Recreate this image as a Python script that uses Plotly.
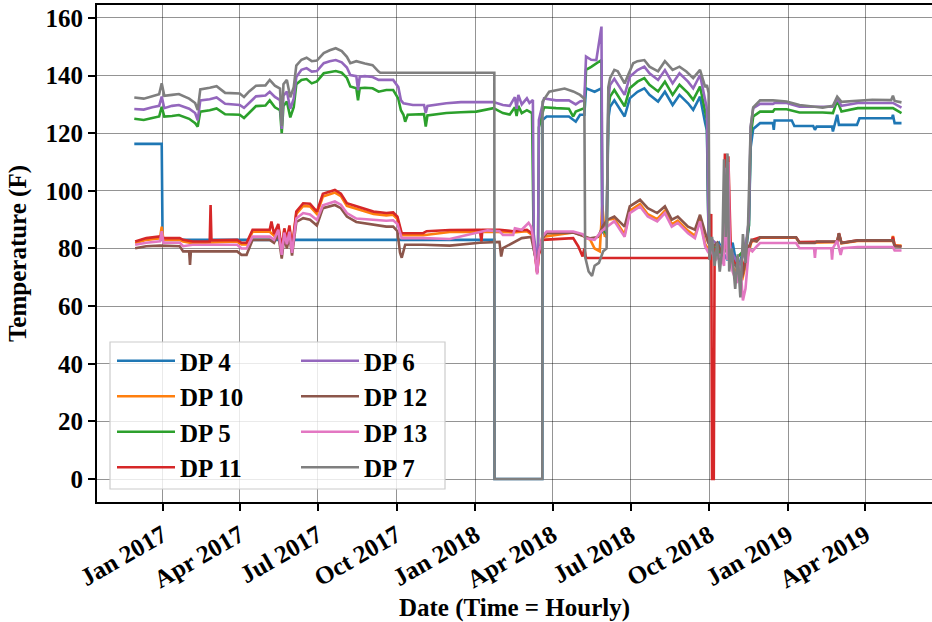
import plotly.graph_objects as go

# Hourly temperature record of eight data points (DP), sampled at key dates.
# Each series is a list of (timestamp, temperature in F) pairs.

dp4 = [
    ("2016-11-29", 116.3), ("2016-12-31", 116.3), ("2017-01-01", 83.0), ("2018-01-23", 83.0),
    ("2018-01-23 06:00", 0.0), ("2018-03-20", 0.0), ("2018-03-20 06:00", 124.6), ("2018-03-25", 125.8),
    ("2018-04-20", 125.8), ("2018-04-25", 124.6), ("2018-04-28", 124.0), ("2018-05-03", 126.4),
    ("2018-05-08", 126.4), ("2018-05-10", 135.6), ("2018-05-20", 134.4), ("2018-05-28", 135.6),
    ("2018-05-29", 86.0), ("2018-06-03", 84.0), ("2018-06-05", 125.0), ("2018-06-07", 129.2),
    ("2018-06-12", 131.4), ("2018-06-24", 125.8), ("2018-06-30", 132.1), ("2018-07-09", 134.4),
    ("2018-07-17", 135.6), ("2018-07-23", 133.3), ("2018-08-02", 131.0), ("2018-08-10", 134.4),
    ("2018-08-19", 129.8), ("2018-08-27", 133.3), ("2018-09-06", 130.4), ("2018-09-12", 128.1),
    ("2018-09-20", 132.7), ("2018-09-26", 123.5), ("2018-09-28", 121.0), ("2018-09-30", 84.0),
    ("2018-10-05", 80.0), ("2018-10-12", 82.0), ("2018-10-18", 78.0), ("2018-10-22", 76.0),
    ("2018-10-28", 82.0), ("2018-11-03", 72.0), ("2018-11-08", 78.0), ("2018-11-13", 80.0),
    ("2018-11-16", 88.0), ("2018-11-18", 115.0), ("2018-11-21", 121.5), ("2018-11-29", 123.5),
    ("2018-12-14", 123.5), ("2018-12-15", 121.2), ("2018-12-16", 124.4), ("2019-01-05", 124.4),
    ("2019-01-08", 122.5), ("2019-01-30", 122.5), ("2019-02-01", 121.2), ("2019-02-03", 122.3),
    ("2019-02-21", 122.3), ("2019-02-22", 120.6), ("2019-02-27", 126.4), ("2019-03-01", 122.9),
    ("2019-03-22", 122.9), ("2019-03-25", 125.2), ("2019-05-02", 125.2), ("2019-05-03", 126.4),
    ("2019-05-05", 123.5), ("2019-05-13", 123.5),
]

dp10 = [
    ("2016-11-30", 81.8), ("2016-12-13", 83.0), ("2016-12-29", 83.5), ("2016-12-31", 87.6),
    ("2017-01-02", 83.0), ("2017-01-21", 83.0), ("2017-01-25", 82.4), ("2017-02-05", 81.8),
    ("2017-03-29", 82.4), ("2017-04-03", 81.4), ("2017-04-09", 81.4), ("2017-04-16", 85.8),
    ("2017-05-06", 85.8), ("2017-05-11", 84.5), ("2017-05-16", 87.8), ("2017-05-20", 79.0),
    ("2017-05-23", 86.3), ("2017-05-26", 82.5), ("2017-05-29", 87.3), ("2017-06-01", 79.5),
    ("2017-06-06", 92.0), ("2017-06-14", 94.8), ("2017-06-22", 94.6), ("2017-06-30", 92.0),
    ("2017-07-07", 98.0), ("2017-07-21", 99.4), ("2017-07-28", 98.2), ("2017-08-04", 94.8),
    ("2017-08-15", 93.8), ("2017-09-04", 92.0), ("2017-09-19", 91.5), ("2017-09-27", 91.7),
    ("2017-10-02", 90.2), ("2017-10-07", 84.6), ("2017-11-01", 84.6), ("2017-12-02", 85.7),
    ("2018-01-06", 85.8), ("2018-01-29", 85.8), ("2018-02-14", 85.6), ("2018-03-02", 86.0),
    ("2018-03-09", 84.5), ("2018-03-14", 71.8), ("2018-03-16", 78.5), ("2018-03-18", 80.5),
    ("2018-03-20", 84.0), ("2018-04-25", 85.6), ("2018-05-06", 84.5), ("2018-05-15", 83.0),
    ("2018-05-20", 80.0), ("2018-05-26", 79.0), ("2018-05-29", 95.0), ("2018-06-01", 84.0),
    ("2018-06-04", 90.0), ("2018-06-12", 90.3), ("2018-06-24", 84.9), ("2018-06-30", 93.1),
    ("2018-07-12", 95.4), ("2018-07-21", 91.9), ("2018-08-01", 90.2), ("2018-08-10", 93.1),
    ("2018-08-18", 88.4), ("2018-08-25", 89.7), ("2018-09-06", 86.1), ("2018-09-14", 84.4),
    ("2018-09-20", 90.2), ("2018-09-26", 81.5), ("2018-09-29", 80.0), ("2018-10-03", 79.0),
    ("2018-10-10", 81.0), ("2018-10-16", 77.0), ("2018-10-21", 84.0), ("2018-10-26", 74.0),
    ("2018-11-02", 72.0), ("2018-11-08", 69.0), ("2018-11-14", 77.0), ("2018-11-19", 82.5),
    ("2018-11-25", 82.6), ("2018-11-29", 83.7), ("2019-01-10", 83.7), ("2019-01-14", 82.0),
    ("2019-02-27", 82.2), ("2019-03-01", 85.0), ("2019-03-04", 81.8), ("2019-03-23", 82.6),
    ("2019-05-02", 82.6), ("2019-05-03", 84.3), ("2019-05-05", 81.0), ("2019-05-13", 81.0),
]

dp5 = [
    ("2016-11-29", 125.0), ("2016-12-10", 124.6), ("2016-12-20", 125.3), ("2016-12-28", 125.8),
    ("2016-12-31", 129.2), ("2017-01-03", 125.8), ("2017-01-12", 126.0), ("2017-01-20", 126.3),
    ("2017-02-01", 125.0), ("2017-02-08", 123.5), ("2017-02-11", 122.3), ("2017-02-14", 127.5),
    ("2017-02-25", 128.0), ("2017-03-05", 128.6), ("2017-03-15", 126.6), ("2017-04-01", 126.4),
    ("2017-04-06", 125.3), ("2017-04-12", 127.0), ("2017-04-20", 129.4), ("2017-05-01", 129.6),
    ("2017-05-06", 131.4), ("2017-05-12", 129.0), ("2017-05-18", 128.0), ("2017-05-20", 120.0),
    ("2017-05-22", 129.5), ("2017-05-26", 131.0), ("2017-05-30", 125.5), ("2017-06-03", 129.0),
    ("2017-06-06", 137.0), ("2017-06-12", 138.5), ("2017-06-18", 138.8), ("2017-06-24", 137.3),
    ("2017-06-30", 138.0), ("2017-07-08", 140.8), ("2017-07-15", 141.3), ("2017-07-22", 141.6),
    ("2017-07-29", 141.0), ("2017-08-04", 139.2), ("2017-08-08", 136.2), ("2017-08-15", 135.6),
    ("2017-08-17", 131.4), ("2017-08-19", 135.6), ("2017-08-25", 135.8), ("2017-09-03", 135.6),
    ("2017-09-10", 134.4), ("2017-09-19", 135.0), ("2017-09-27", 135.0), ("2017-10-03", 132.0),
    ("2017-10-06", 128.0), ("2017-10-09", 126.4), ("2017-10-11", 124.0), ("2017-10-14", 126.4),
    ("2017-11-02", 126.6), ("2017-11-04", 122.3), ("2017-11-06", 126.2), ("2017-11-28", 127.0),
    ("2017-12-15", 127.3), ("2018-01-02", 127.5), ("2018-01-22", 128.7), ("2018-02-02", 127.0),
    ("2018-02-10", 126.5), ("2018-02-16", 129.0), ("2018-02-18", 126.0), ("2018-02-20", 129.5),
    ("2018-02-24", 127.0), ("2018-03-02", 128.0), ("2018-03-08", 127.0), ("2018-03-09", 104.0),
    ("2018-03-09 12:00", 101.5), ("2018-03-10", 80.0), ("2018-03-14", 74.0), ("2018-03-15", 79.0),
    ("2018-03-16", 122.0), ("2018-03-22", 129.0), ("2018-04-05", 128.7), ("2018-04-20", 128.5),
    ("2018-04-25", 125.8), ("2018-04-28", 127.5), ("2018-05-08", 128.7), ("2018-05-10", 142.0),
    ("2018-05-16", 143.0), ("2018-05-22", 144.3), ("2018-05-28", 145.4), ("2018-05-29", 87.0),
    ("2018-06-03", 85.0), ("2018-06-05", 128.5), ("2018-06-07", 132.7), ("2018-06-12", 135.0),
    ("2018-06-24", 129.3), ("2018-06-30", 135.6), ("2018-07-09", 137.9), ("2018-07-17", 139.1),
    ("2018-07-23", 136.8), ("2018-08-02", 134.5), ("2018-08-10", 137.9), ("2018-08-19", 133.3),
    ("2018-08-27", 136.8), ("2018-09-06", 133.9), ("2018-09-12", 131.6), ("2018-09-20", 136.2),
    ("2018-09-26", 127.0), ("2018-09-28", 124.5), ("2018-09-30", 82.0), ("2018-10-08", 80.0),
    ("2018-10-16", 78.0), ("2018-10-22", 80.0), ("2018-10-30", 76.0), ("2018-11-06", 78.0),
    ("2018-11-12", 80.0), ("2018-11-16", 88.0), ("2018-11-18", 119.0), ("2018-11-21", 125.8),
    ("2018-11-29", 127.5), ("2018-12-14", 127.5), ("2018-12-16", 128.3), ("2018-12-30", 128.3),
    ("2019-01-14", 127.2), ("2019-02-10", 127.2), ("2019-02-22", 127.0), ("2019-02-27", 131.4),
    ("2019-03-04", 127.5), ("2019-03-23", 128.7), ("2019-05-03", 128.7), ("2019-05-13", 127.0),
]

dp11 = [
    ("2016-11-30", 82.4), ("2016-12-13", 83.6), ("2016-12-29", 84.2), ("2017-01-01", 83.6),
    ("2017-01-21", 83.6), ("2017-01-25", 83.0), ("2017-02-05", 82.4), ("2017-02-25", 82.4),
    ("2017-02-26", 95.1), ("2017-02-27", 82.8), ("2017-03-29", 83.0), ("2017-04-03", 82.0),
    ("2017-04-09", 82.0), ("2017-04-16", 86.5), ("2017-05-06", 86.5), ("2017-05-08", 89.4),
    ("2017-05-11", 85.0), ("2017-05-16", 88.5), ("2017-05-20", 79.5), ("2017-05-23", 87.0),
    ("2017-05-26", 83.0), ("2017-05-29", 88.0), ("2017-06-01", 80.0), ("2017-06-06", 92.8),
    ("2017-06-14", 95.7), ("2017-06-22", 95.5), ("2017-06-30", 92.8), ("2017-07-07", 99.0),
    ("2017-07-21", 100.3), ("2017-07-28", 99.0), ("2017-08-04", 95.7), ("2017-08-15", 94.6),
    ("2017-09-04", 92.8), ("2017-09-19", 92.3), ("2017-09-27", 92.5), ("2017-10-02", 91.0),
    ("2017-10-07", 85.3), ("2017-11-01", 85.3), ("2017-11-05", 86.0), ("2017-12-02", 86.4),
    ("2018-01-06", 86.5), ("2018-01-08", 82.4), ("2018-01-09", 86.5), ("2018-01-29", 86.5),
    ("2018-02-14", 86.0), ("2018-03-02", 86.5), ("2018-03-09", 85.0), ("2018-03-14", 71.5),
    ("2018-03-16", 78.0), ("2018-03-18", 79.6), ("2018-03-20", 83.0), ("2018-04-25", 83.6),
    ("2018-05-01", 80.7), ("2018-05-06", 77.2), ("2018-05-08", 80.0), ("2018-05-10", 76.7),
    ("2018-10-01", 76.7), ("2018-10-03", 92.0), ("2018-10-04", 0.0), ("2018-10-06", 0.0),
    ("2018-10-07", 80.0), ("2018-10-12", 78.0), ("2018-10-17", 76.0), ("2018-10-19", 113.0),
    ("2018-10-21", 80.0), ("2018-10-23", 112.0), ("2018-10-26", 78.0), ("2018-11-01", 74.0),
    ("2018-11-08", 72.0), ("2018-11-15", 80.0), ("2018-11-20", 83.0), ("2018-11-29", 83.9),
    ("2019-01-10", 83.9), ("2019-01-14", 82.2), ("2019-02-27", 82.4), ("2019-03-01", 85.3),
    ("2019-03-04", 82.0), ("2019-03-23", 82.8), ("2019-05-02", 82.8), ("2019-05-03", 84.1),
    ("2019-05-05", 81.0), ("2019-05-13", 80.7),
]

dp6 = [
    ("2016-11-29", 128.4), ("2016-12-10", 128.2), ("2016-12-20", 129.0), ("2016-12-28", 129.5),
    ("2016-12-31", 132.7), ("2017-01-03", 128.7), ("2017-01-12", 129.5), ("2017-01-20", 129.8),
    ("2017-02-01", 128.5), ("2017-02-08", 127.0), ("2017-02-11", 124.5), ("2017-02-14", 131.4),
    ("2017-02-25", 131.8), ("2017-03-05", 132.4), ("2017-03-15", 130.2), ("2017-04-01", 129.8),
    ("2017-04-06", 128.8), ("2017-04-12", 130.5), ("2017-04-20", 132.8), ("2017-05-01", 133.1),
    ("2017-05-06", 134.4), ("2017-05-12", 132.6), ("2017-05-18", 131.5), ("2017-05-20", 121.5),
    ("2017-05-22", 133.0), ("2017-05-26", 134.5), ("2017-05-30", 128.5), ("2017-06-03", 132.0),
    ("2017-06-06", 139.5), ("2017-06-12", 142.0), ("2017-06-18", 142.6), ("2017-06-24", 141.4),
    ("2017-06-30", 141.6), ("2017-07-08", 144.3), ("2017-07-15", 145.0), ("2017-07-22", 145.4),
    ("2017-07-29", 144.6), ("2017-08-04", 142.8), ("2017-08-08", 140.2), ("2017-08-15", 139.8),
    ("2017-08-17", 135.0), ("2017-08-19", 139.6), ("2017-08-25", 139.8), ("2017-09-03", 139.5),
    ("2017-09-10", 138.5), ("2017-09-19", 138.5), ("2017-09-27", 138.5), ("2017-10-03", 136.0),
    ("2017-10-06", 131.5), ("2017-10-09", 130.4), ("2017-10-20", 129.8), ("2017-11-02", 129.8),
    ("2017-11-04", 127.0), ("2017-11-06", 129.5), ("2017-11-28", 130.4), ("2017-12-15", 130.8),
    ("2018-01-02", 130.8), ("2018-01-22", 130.8), ("2018-02-02", 129.8), ("2018-02-10", 129.5),
    ("2018-02-16", 132.5), ("2018-02-18", 128.5), ("2018-02-20", 133.3), ("2018-02-24", 130.0),
    ("2018-03-02", 132.1), ("2018-03-05", 130.5), ("2018-03-09", 131.5), ("2018-03-10", 85.0),
    ("2018-03-12", 80.0), ("2018-03-14", 72.0), ("2018-03-15", 78.0), ("2018-03-16", 124.6),
    ("2018-03-22", 132.1), ("2018-04-05", 131.4), ("2018-04-20", 131.4), ("2018-04-28", 130.0),
    ("2018-05-03", 131.0), ("2018-05-08", 131.4), ("2018-05-10", 146.6), ("2018-05-16", 145.5),
    ("2018-05-22", 145.4), ("2018-05-24", 148.9), ("2018-05-28", 157.0), ("2018-05-29", 88.0),
    ("2018-06-03", 86.0), ("2018-06-05", 132.0), ("2018-06-07", 136.7), ("2018-06-12", 138.9),
    ("2018-06-24", 133.3), ("2018-06-30", 139.6), ("2018-07-09", 141.9), ("2018-07-17", 143.1),
    ("2018-07-23", 140.8), ("2018-08-02", 138.5), ("2018-08-10", 141.9), ("2018-08-19", 137.3),
    ("2018-08-27", 140.8), ("2018-09-06", 137.9), ("2018-09-12", 135.6), ("2018-09-20", 140.2),
    ("2018-09-26", 131.0), ("2018-09-28", 128.5), ("2018-09-30", 84.0), ("2018-10-08", 82.0),
    ("2018-10-16", 80.0), ("2018-10-22", 84.0), ("2018-10-28", 78.0), ("2018-11-05", 74.0),
    ("2018-11-12", 80.0), ("2018-11-16", 90.0), ("2018-11-18", 122.0), ("2018-11-21", 128.7),
    ("2018-11-29", 130.2), ("2018-12-14", 130.2), ("2018-12-16", 130.5), ("2018-12-30", 130.5),
    ("2019-01-14", 129.2), ("2019-02-22", 129.2), ("2019-02-27", 132.0), ("2019-03-04", 129.5),
    ("2019-03-23", 130.5), ("2019-05-03", 130.5), ("2019-05-13", 128.9),
]

dp12 = [
    ("2016-11-30", 80.1), ("2016-12-13", 80.8), ("2016-12-29", 81.0), ("2017-01-21", 80.8),
    ("2017-01-25", 79.0), ("2017-02-01", 79.0), ("2017-02-02", 74.3), ("2017-02-03", 79.0),
    ("2017-03-29", 79.0), ("2017-04-03", 77.8), ("2017-04-09", 77.8), ("2017-04-16", 83.0),
    ("2017-05-06", 83.0), ("2017-05-11", 82.0), ("2017-05-16", 85.0), ("2017-05-20", 76.5),
    ("2017-05-23", 84.0), ("2017-05-26", 80.0), ("2017-05-29", 84.5), ("2017-06-01", 77.5),
    ("2017-06-06", 89.2), ("2017-06-14", 90.5), ("2017-06-22", 90.0), ("2017-06-30", 88.0),
    ("2017-07-07", 94.0), ("2017-07-21", 95.1), ("2017-07-28", 94.0), ("2017-08-04", 91.1),
    ("2017-08-15", 89.2), ("2017-09-04", 88.2), ("2017-09-19", 87.6), ("2017-09-27", 87.6),
    ("2017-10-02", 86.0), ("2017-10-05", 78.5), ("2017-10-07", 76.8), ("2017-10-11", 81.3),
    ("2017-11-01", 81.3), ("2017-12-02", 81.0), ("2018-01-06", 82.0), ("2018-01-29", 82.3),
    ("2018-01-31", 77.2), ("2018-02-02", 80.1), ("2018-02-14", 81.9), ("2018-02-24", 83.6),
    ("2018-03-07", 84.0), ("2018-03-14", 74.0), ("2018-03-16", 79.0), ("2018-03-18", 80.7),
    ("2018-03-20", 83.5), ("2018-03-25", 85.3), ("2018-04-25", 85.5), ("2018-05-06", 84.5),
    ("2018-05-15", 83.5), ("2018-05-24", 84.0), ("2018-05-30", 88.0), ("2018-06-04", 90.0),
    ("2018-06-12", 91.1), ("2018-06-24", 87.6), ("2018-06-30", 94.6), ("2018-07-12", 96.9),
    ("2018-07-21", 94.0), ("2018-08-01", 92.3), ("2018-08-10", 94.6), ("2018-08-18", 90.0),
    ("2018-08-25", 91.1), ("2018-09-06", 87.6), ("2018-09-14", 86.5), ("2018-09-20", 91.7),
    ("2018-09-26", 85.3), ("2018-09-29", 82.4), ("2018-10-03", 80.0), ("2018-10-10", 82.0),
    ("2018-10-16", 78.0), ("2018-10-20", 85.0), ("2018-10-25", 75.0), ("2018-11-01", 74.0),
    ("2018-11-08", 70.0), ("2018-11-14", 78.0), ("2018-11-19", 83.0), ("2018-11-25", 82.4),
    ("2018-11-29", 83.9), ("2019-01-10", 83.9), ("2019-01-14", 81.9), ("2019-02-01", 81.9),
    ("2019-02-03", 82.4), ("2019-02-27", 82.4), ("2019-03-01", 85.3), ("2019-03-04", 81.9),
    ("2019-03-23", 82.8), ("2019-05-03", 82.8), ("2019-05-05", 80.7), ("2019-05-13", 80.7),
]

dp13 = [
    ("2016-11-30", 81.3), ("2016-12-13", 82.0), ("2016-12-29", 82.5), ("2016-12-31", 86.0),
    ("2017-01-02", 82.0), ("2017-01-21", 82.0), ("2017-01-25", 80.8), ("2017-02-05", 81.3),
    ("2017-03-29", 81.3), ("2017-04-03", 80.0), ("2017-04-09", 80.0), ("2017-04-16", 84.1),
    ("2017-05-06", 84.1), ("2017-05-11", 83.0), ("2017-05-16", 86.5), ("2017-05-20", 77.8),
    ("2017-05-23", 85.5), ("2017-05-26", 81.5), ("2017-05-29", 85.8), ("2017-06-01", 78.5),
    ("2017-06-06", 90.4), ("2017-06-14", 92.3), ("2017-06-22", 91.8), ("2017-06-30", 89.9),
    ("2017-07-07", 95.0), ("2017-07-21", 96.3), ("2017-07-28", 95.2), ("2017-08-04", 92.3),
    ("2017-08-15", 90.4), ("2017-09-04", 90.0), ("2017-09-19", 89.6), ("2017-09-27", 89.8),
    ("2017-10-02", 88.5), ("2017-10-07", 83.6), ("2017-11-01", 83.6), ("2017-12-02", 83.3),
    ("2018-01-06", 85.5), ("2018-01-15", 86.3), ("2018-01-29", 86.0), ("2018-02-02", 84.7),
    ("2018-02-14", 84.7), ("2018-02-16", 87.0), ("2018-02-24", 86.5), ("2018-03-04", 88.9),
    ("2018-03-07", 87.5), ("2018-03-09", 84.0), ("2018-03-14", 71.0), ("2018-03-16", 79.0),
    ("2018-03-18", 81.0), ("2018-03-20", 84.1), ("2018-03-25", 85.9), ("2018-04-25", 85.9),
    ("2018-05-06", 85.0), ("2018-05-10", 83.5), ("2018-05-20", 83.0), ("2018-05-28", 86.0),
    ("2018-06-04", 87.6), ("2018-06-12", 89.5), ("2018-06-24", 84.1), ("2018-06-30", 92.3),
    ("2018-07-12", 94.6), ("2018-07-21", 91.1), ("2018-08-01", 89.4), ("2018-08-10", 92.3),
    ("2018-08-18", 87.6), ("2018-08-25", 88.9), ("2018-09-06", 85.3), ("2018-09-14", 83.6),
    ("2018-09-20", 89.4), ("2018-09-26", 80.7), ("2018-09-29", 79.0), ("2018-10-02", 80.0),
    ("2018-10-08", 76.0), ("2018-10-14", 78.0), ("2018-10-18", 74.0), ("2018-10-20", 108.0),
    ("2018-10-22", 76.0), ("2018-10-23", 110.0), ("2018-10-25", 76.0), ("2018-10-28", 72.0),
    ("2018-11-02", 68.0), ("2018-11-06", 74.0), ("2018-11-09", 62.0), ("2018-11-12", 66.0),
    ("2018-11-16", 80.0), ("2018-11-20", 79.0), ("2018-11-25", 80.7), ("2018-11-29", 81.9),
    ("2019-01-10", 81.9), ("2019-01-14", 80.1), ("2019-01-31", 80.1), ("2019-02-01", 76.7),
    ("2019-02-02", 80.1), ("2019-02-20", 80.1), ("2019-02-21", 76.1), ("2019-02-22", 80.1),
    ("2019-02-27", 82.7), ("2019-03-03", 77.8), ("2019-03-05", 80.1), ("2019-03-23", 80.5),
    ("2019-05-03", 80.5), ("2019-05-05", 79.3), ("2019-05-13", 79.3),
]

dp7 = [
    ("2016-11-29", 132.4), ("2016-12-10", 132.0), ("2016-12-20", 132.8), ("2016-12-28", 133.5),
    ("2016-12-31", 137.3), ("2017-01-03", 133.0), ("2017-01-12", 133.3), ("2017-01-20", 133.6),
    ("2017-02-01", 132.0), ("2017-02-08", 130.5), ("2017-02-11", 128.0), ("2017-02-14", 135.2),
    ("2017-02-25", 135.8), ("2017-03-05", 136.3), ("2017-03-15", 134.0), ("2017-04-01", 133.8),
    ("2017-04-06", 132.6), ("2017-04-12", 134.5), ("2017-04-20", 136.5), ("2017-05-01", 136.6),
    ("2017-05-06", 138.5), ("2017-05-12", 136.5), ("2017-05-18", 135.5), ("2017-05-20", 122.5),
    ("2017-05-22", 137.0), ("2017-05-26", 138.5), ("2017-05-30", 132.5), ("2017-06-03", 136.0),
    ("2017-06-06", 143.5), ("2017-06-12", 145.5), ("2017-06-18", 146.2), ("2017-06-24", 145.0),
    ("2017-06-30", 145.2), ("2017-07-08", 147.8), ("2017-07-15", 148.8), ("2017-07-22", 149.5),
    ("2017-07-29", 148.5), ("2017-08-04", 146.5), ("2017-08-08", 144.3), ("2017-08-15", 145.0),
    ("2017-08-25", 144.2), ("2017-09-03", 143.6), ("2017-09-10", 141.4), ("2017-09-12", 141.0),
    ("2018-01-23", 141.0), ("2018-01-23 06:00", 0.0), ("2018-03-20", 0.0), ("2018-03-20 06:00", 131.0),
    ("2018-03-28", 134.4), ("2018-04-05", 135.0), ("2018-04-15", 135.5), ("2018-04-25", 134.5),
    ("2018-05-03", 133.3), ("2018-05-08", 132.0), ("2018-05-09", 77.0), ("2018-05-13", 72.0),
    ("2018-05-17", 70.5), ("2018-05-20", 74.0), ("2018-05-25", 75.0), ("2018-05-30", 79.0),
    ("2018-06-03", 80.0), ("2018-06-05", 136.0), ("2018-06-07", 139.1), ("2018-06-12", 142.0),
    ("2018-06-16", 141.5), ("2018-06-24", 137.3), ("2018-06-30", 141.4), ("2018-07-04", 144.3),
    ("2018-07-09", 145.0), ("2018-07-17", 145.4), ("2018-07-23", 143.1), ("2018-08-02", 141.5),
    ("2018-08-10", 145.0), ("2018-08-19", 142.0), ("2018-08-27", 143.1), ("2018-09-04", 141.4),
    ("2018-09-12", 139.1), ("2018-09-20", 142.0), ("2018-09-26", 136.0), ("2018-09-28", 136.7),
    ("2018-09-30", 134.0), ("2018-10-01", 76.0), ("2018-10-04", 84.0), ("2018-10-07", 74.0),
    ("2018-10-10", 82.0), ("2018-10-13", 72.0), ("2018-10-16", 80.0), ("2018-10-18", 111.0),
    ("2018-10-20", 84.0), ("2018-10-22", 113.0), ("2018-10-24", 72.0), ("2018-10-27", 80.0),
    ("2018-10-31", 66.0), ("2018-11-03", 78.0), ("2018-11-06", 63.0), ("2018-11-09", 85.0),
    ("2018-11-12", 75.0), ("2018-11-15", 88.0), ("2018-11-18", 122.0), ("2018-11-21", 129.0),
    ("2018-11-29", 131.4), ("2018-12-14", 131.4), ("2018-12-30", 131.0), ("2019-01-14", 129.8),
    ("2019-02-01", 129.2), ("2019-02-10", 128.9), ("2019-02-22", 129.5), ("2019-02-27", 132.7),
    ("2019-03-04", 130.9), ("2019-03-23", 131.4), ("2019-04-09", 131.6), ("2019-05-01", 131.5),
    ("2019-05-03", 133.0), ("2019-05-05", 131.2), ("2019-05-13", 130.7),
]

# (label, data, colour, legend column) in drawing order
series = [
    ("DP 4", dp4, "#1f77b4", "legend"),
    ("DP 10", dp10, "#ff7f0e", "legend"),
    ("DP 5", dp5, "#2ca02c", "legend"),
    ("DP 11", dp11, "#d62728", "legend"),
    ("DP 6", dp6, "#9467bd", "legend2"),
    ("DP 12", dp12, "#8c564b", "legend2"),
    ("DP 13", dp13, "#e377c2", "legend2"),
    ("DP 7", dp7, "#7f7f7f", "legend2"),
]

FONT = "Liberation Serif"
W, H = 932, 622
ML, MR, MT, MB = 97, 0, 5, 120
PW, PH = W - ML - MR, H - MT - MB


def px_x(p):
    return (p - ML) / PW


def px_y(p):
    return (H - MB - p) / PH


fig = go.Figure()
for name, pts, color, leg in series:
    fig.add_trace(go.Scatter(
        x=[t for t, _ in pts],
        y=[v for _, v in pts],
        mode="lines",
        name=name,
        line=dict(color=color, width=2.6),
        legend=leg,
    ))

legend_font = dict(family=FONT, size=25, color="black", weight="bold")
legend_common = dict(
    xanchor="left", yanchor="top", bgcolor="rgba(0,0,0,0)", borderwidth=0,
    font=legend_font, itemwidth=58, tracegroupgap=0, traceorder="normal",
)

grid_color = "rgba(0,0,0,0.42)"
axis_font = dict(family=FONT, size=25, color="black", weight="bold")

fig.update_layout(
    width=W, height=H,
    margin=dict(l=ML, r=MR, t=MT, b=MB, pad=0),
    plot_bgcolor="white", paper_bgcolor="white",
    showlegend=True,
    legend=dict(x=px_x(112), y=px_y(338), **legend_common),
    legend2=dict(x=px_x(296), y=px_y(338), **legend_common),
    xaxis=dict(
        type="date",
        range=["2016-10-16 12:00", "2019-06-17 14:00"],
        tick0="2017-01-01", dtick="M3", tickformat="%b %Y",
        tickangle=-30,
        tickfont=axis_font,
        ticks="outside", ticklen=7, tickwidth=1.8, tickcolor="black",
        showline=True, linecolor="black", linewidth=1.8, mirror=True,
        showgrid=True, gridcolor=grid_color, gridwidth=1.2,
        zeroline=False,
        title=dict(text="Date (Time = Hourly)", font=axis_font, standoff=10),
    ),
    yaxis=dict(
        range=[-7.98, 164.5],
        tick0=0, dtick=20,
        tickfont=axis_font,
        ticks="outside", ticklen=7, tickwidth=1.8, tickcolor="black",
        showline=True, linecolor="black", linewidth=1.8, mirror=False,
        showgrid=True, gridcolor=grid_color, gridwidth=1.2,
        zeroline=False,
        title=dict(text="Temperature (F)", font=axis_font, standoff=12),
    ),
    shapes=[dict(
        type="rect", xref="paper", yref="paper", layer="above",
        x0=px_x(110), x1=px_x(445), y0=px_y(489), y1=px_y(342),
        line=dict(color="#cccccc", width=1.2),
        fillcolor="rgba(255,255,255,0.8)",
    )],
)

fig.write_html("out.html", config={"displayModeBar": False})
